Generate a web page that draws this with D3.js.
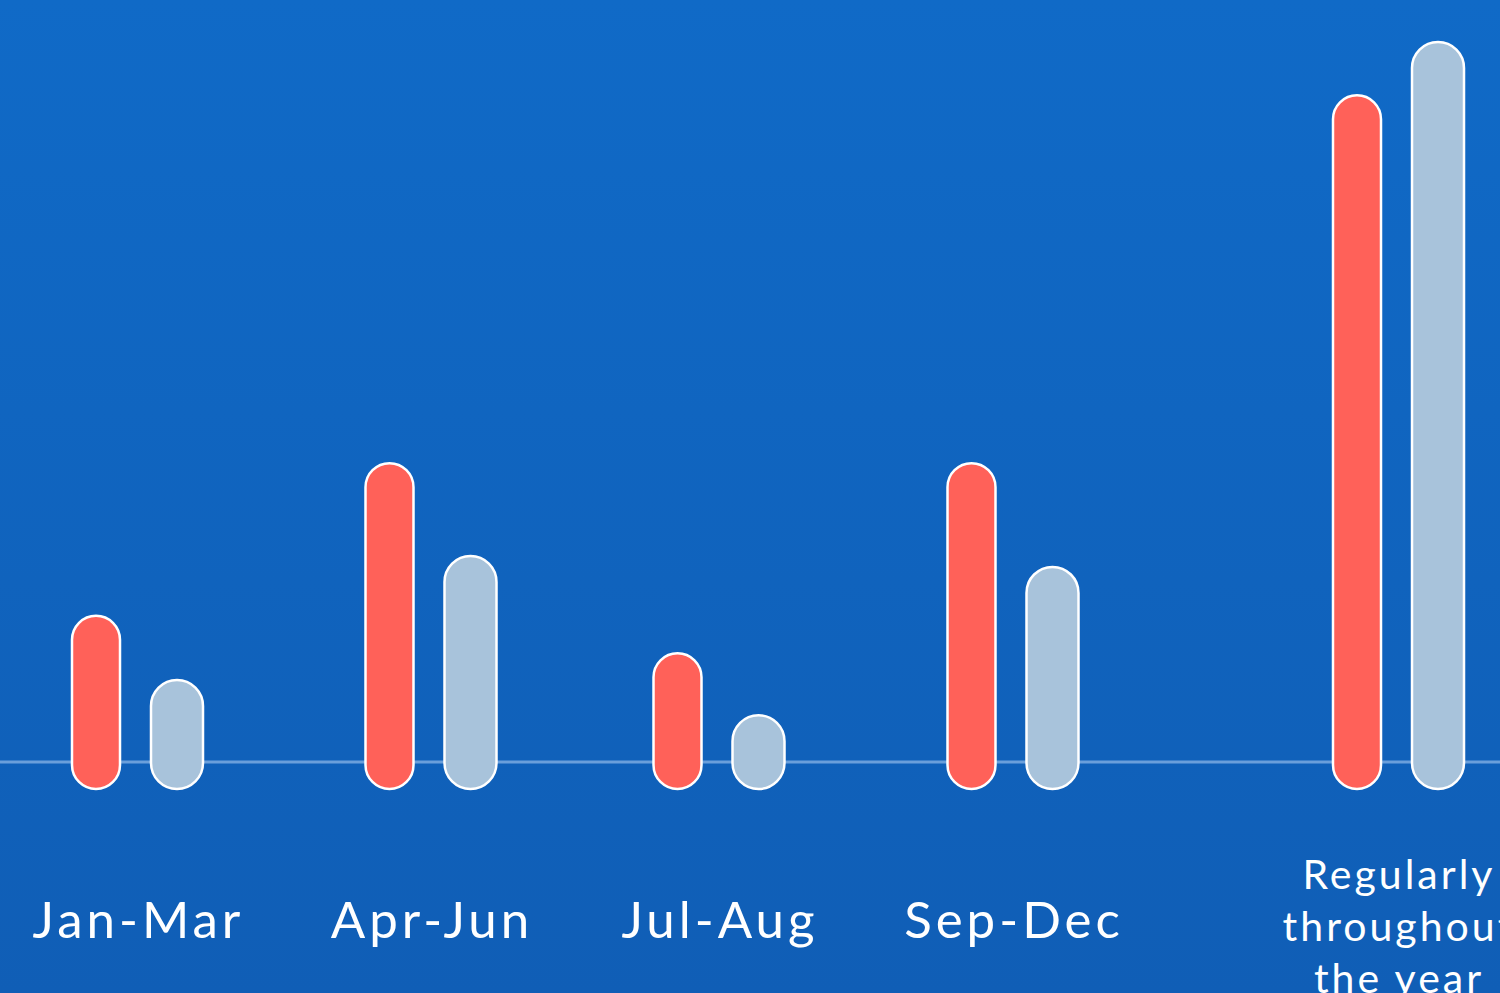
<!DOCTYPE html>
<html>
<head>
<meta charset="utf-8">
<script src="https://cdn.jsdelivr.net/npm/d3@7"></script>
<style>
  html, body { margin: 0; padding: 0; overflow: hidden; }
  svg { display: block; }
</style>
</head>
<body>
<script>
// data (arbitrary units, tallest bar = 100)
const categories = ["Jan-Mar", "Apr-Jun", "Jul-Aug", "Sep-Dec", "Regularly throughout the year"];
const series = ["red", "grey"];
const redValues = [20.3, 41.5, 15.1, 41.5, 92.6];
const greyValues = [11.4, 28.6, 6.5, 27.1, 100];

const W = 1500, H = 993;
const baseline = 762;

const svg = d3.select("body").append("svg").attr("width", W).attr("height", H);

const defs = svg.append("defs");
const grad = defs.append("linearGradient").attr("id", "bg").attr("x1", 0).attr("y1", 0).attr("x2", 0).attr("y2", 1);
grad.append("stop").attr("offset", "0%").attr("stop-color", "#106AC7");
grad.append("stop").attr("offset", "100%").attr("stop-color", "#105EB6");
svg.append("rect").attr("width", W).attr("height", H).attr("fill", "url(#bg)");

// group centres - last group sits further out to make room for its longer label
const x = d3.scaleOrdinal(categories, [136.5, 430, 718, 1012, 1397.5]);
const xInner = d3.scalePoint(series, [-40.5, 40.5]);
const y = d3.scaleLinear().domain([0, 100]).range([baseline, 42]);

const barWidth = { red: 48, grey: 52 };
const fills = { red: "#FF6159", grey: "#A8C3DB" };

// baseline
svg.append("line")
  .attr("x1", 0).attr("x2", W)
  .attr("y1", baseline).attr("y2", baseline)
  .attr("stroke", "#6A9FDB").attr("stroke-width", 3);

const bars = [];
categories.forEach((c, i) => {
  bars.push({ cat: c, s: "red", v: redValues[i] });
  bars.push({ cat: c, s: "grey", v: greyValues[i] });
});

svg.selectAll("rect.bar")
  .data(bars)
  .enter()
  .append("rect")
  .attr("class", "bar")
  .attr("x", d => x(d.cat) + xInner(d.s) - barWidth[d.s] / 2)
  .attr("y", d => y(d.v))
  .attr("width", d => barWidth[d.s])
  .attr("height", d => y(0) - y(d.v) + 27)
  .attr("rx", d => barWidth[d.s] / 2)
  .attr("ry", d => barWidth[d.s] / 2)
  .attr("fill", d => fills[d.s])
  .attr("stroke", "#fff")
  .attr("stroke-width", 2.5);

// category labels
const labels = svg.selectAll("text.cat")
  .data(categories)
  .enter()
  .append("text")
  .attr("class", "cat")
  .attr("text-anchor", "middle")
  .attr("fill", "#fff")
  .style("font-family", "Lato, 'Open Sans', sans-serif")
  .style("font-weight", 400);

labels.each(function (d, i) {
  const t = d3.select(this);
  if (i < 4) {
    t.attr("x", x(d) + 2).attr("y", 938)
      .style("font-size", "51px")
      .style("letter-spacing", "4px")
      .text(d);
  } else {
    const lines = ["Regularly", "throughout", "the year"];
    t.style("font-size", "41px").style("letter-spacing", "3px");
    lines.forEach((l, j) => {
      t.append("tspan").attr("x", x(d) + 1.5).attr("y", 889 + j * 52).text(l);
    });
  }
});
</script>
</body>
</html>
